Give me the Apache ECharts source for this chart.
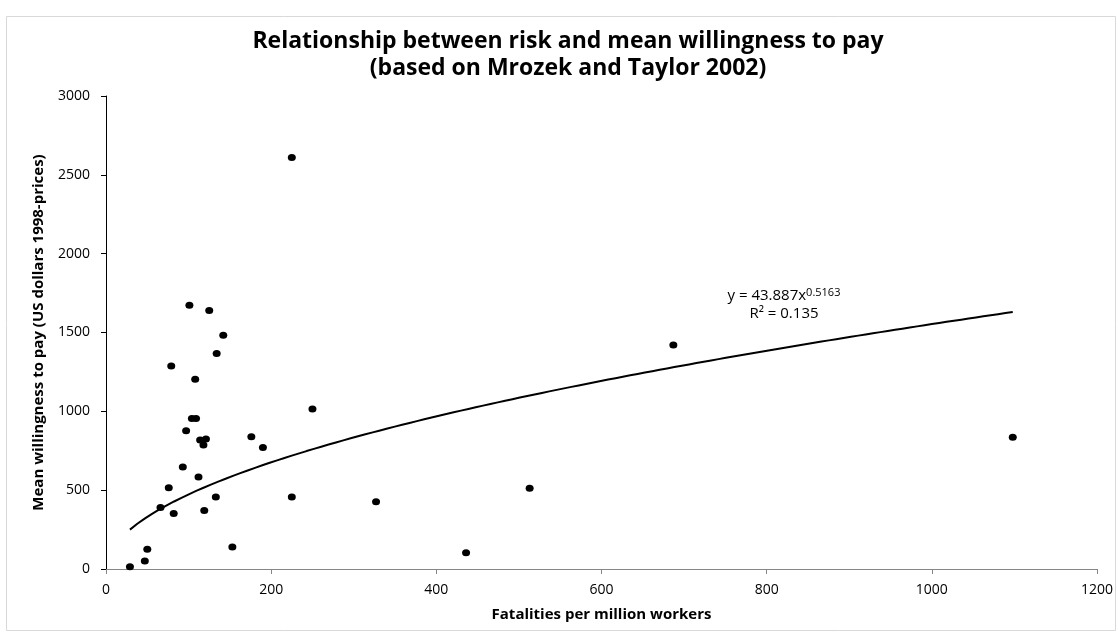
<!DOCTYPE html>
<html>
<head>
<meta charset="utf-8">
<script src="https://cdn.jsdelivr.net/npm/echarts@6/dist/echarts.min.js"></script>
<style>
html,body{margin:0;padding:0;background:#fff;}
#chart{width:1118px;height:632px;}
</style>
</head>
<body>
<div id="chart"></div>
<script>
// Data
var fatalities = [29, 47, 50, 66, 76, 79, 82, 93, 97, 101, 104, 109, 108, 112, 114, 118, 119, 121, 125, 133, 134, 142, 153, 176, 190, 225, 225, 250, 327, 436, 513, 687, 1098];
var wtp        = [15, 51, 126, 390, 515, 1287, 352, 647, 877, 1673, 955, 955, 1204, 584, 818, 787, 371, 825, 1639, 456, 1367, 1483, 139, 839, 770, 2610, 456, 1015, 426, 103, 512, 1421, 835];
// Power trendline coefficients shown on the chart
var trendA = 43.887;
var trendB = 0.5163;
var trendR2 = '0.135';
var xTicks = [0, 200, 400, 600, 800, 1000, 1200];
var yTicks = [0, 500, 1000, 1500, 2000, 2500, 3000];

var titleText = 'Relationship between risk and mean willingness to pay\n(based on Mrozek and Taylor 2002)';
var xName = 'Fatalities per million workers';
var yName = 'Mean willingness to pay (US dollars 1998-prices)';

var points = fatalities.map(function (x, i) { return [x, wtp[i]]; });
var xMin = Math.min.apply(null, fatalities), xMax = Math.max.apply(null, fatalities);
var trend = [];
for (var k = 0; k <= 120; k++) {
  var x = xMin + (xMax - xMin) * k / 120;
  trend.push([x, trendA * Math.pow(x, trendB)]);
}

var font = "'Open Sans', 'Liberation Sans', sans-serif";
var chart = echarts.init(document.getElementById('chart'), null, {renderer: 'canvas'});
chart.setOption({
  backgroundColor: '#fff',
  animation: false,
  title: {
    text: titleText,
    left: 563, top: 23, textAlign: 'center',
    textStyle: {fontFamily: font, fontWeight: 'bold', fontSize: 23, color: '#000', lineHeight: 27}
  },
  grid: {left: 106, right: 21, top: 96, bottom: 63, containLabel: false},
  xAxis: {
    type: 'value', min: xTicks[0], max: xTicks[xTicks.length - 1], interval: xTicks[1] - xTicks[0],
    name: xName, nameLocation: 'middle', nameGap: 38,
    nameTextStyle: {fontFamily: font, fontWeight: 'bold', fontSize: 15, color: '#000'},
    axisLine: {show: true, onZero: false, lineStyle: {color: '#868686', width: 1}},
    axisTick: {show: true, inside: false, length: 5, lineStyle: {color: '#868686'}},
    axisLabel: {fontFamily: font, fontSize: 14, color: '#000', margin: 14, formatter: function (v) { return String(v); }},
    splitLine: {show: false}
  },
  yAxis: {
    type: 'value', min: yTicks[0], max: yTicks[yTicks.length - 1], interval: yTicks[1] - yTicks[0],
    name: yName, nameLocation: 'middle', nameGap: 60,
    nameTextStyle: {fontFamily: font, fontWeight: 'bold', fontSize: 15, color: '#000'},
    axisLine: {show: true, lineStyle: {color: '#000', width: 1}},
    axisTick: {show: true, inside: false, length: 5, lineStyle: {color: '#000'}},
    axisLabel: {fontFamily: font, fontSize: 14, color: '#000', margin: 16, formatter: function (v) { return String(v); }},
    splitLine: {show: false}
  },
  series: [
    {
      type: 'line', data: trend, showSymbol: false, symbol: 'none',
      lineStyle: {color: '#000', width: 2}, z: 2, silent: true
    },
    {
      type: 'scatter', data: points, symbol: 'circle', symbolSize: [8, 7],
      itemStyle: {color: '#000', opacity: 1}, z: 3
    }
  ],
  graphic: [
    {
      type: 'rect', left: 4, top: 14, shape: {width: 1109, height: 614},
      style: {fill: 'none', stroke: '#d9d9d9', lineWidth: 1}, silent: true, z: -1
    },
    {
      type: 'text', x: 784, y: 287,
      style: {
        text: '{n|y = ' + trendA + 'x}{s|' + trendB + '}\n{n|R² = ' + trendR2 + '}',
        align: 'center',
        rich: {
          n: {fontFamily: font, fontSize: 15, fill: '#000', lineHeight: 18},
          s: {fontFamily: font, fontSize: 11, fill: '#000', verticalAlign: 'top', lineHeight: 18, padding: [0, 0, 7, 0]}
        }
      }
    }
  ]
});
</script>
</body>
</html>
